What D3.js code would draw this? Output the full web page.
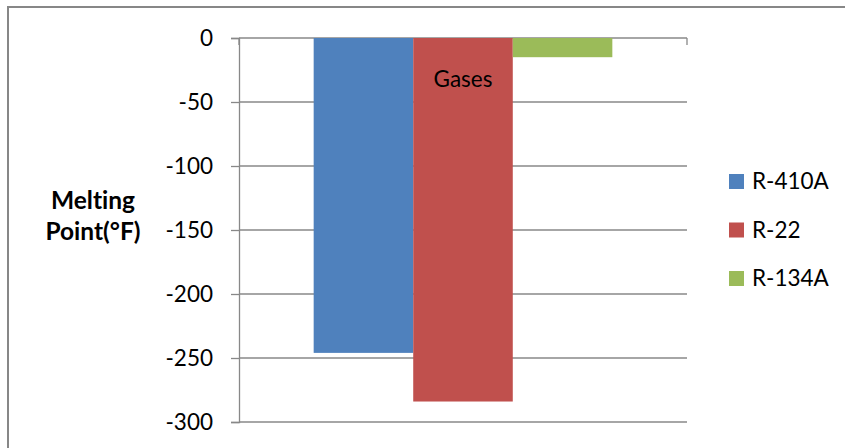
<!DOCTYPE html>
<html>
<head>
<meta charset="utf-8">
<script src="https://cdn.jsdelivr.net/npm/d3@7/dist/d3.min.js"></script>
<style>
  html, body { margin: 0; padding: 0; background: #fff; }
  svg { display: block; font-family: Lato, "Open Sans", sans-serif; font-variant-ligatures: none; font-feature-settings: "liga" 0, "clig" 0; }
</style>
</head>
<body>
<svg id="chart" width="845" height="448"></svg>
<script>
// Melting points of common refrigerants (°F)
const categories = ["Gases"];
const seriesNames = ["R-410A", "R-22", "R-134A"];
const seriesValues = [-246, -284, -15];
const seriesColors = ["#4F81BD", "#C0504D", "#9BBB59"];
const yTicks = [0, -50, -100, -150, -200, -250, -300];
const yTitle = ["Melting", "Point(°F)"];

const svg = d3.select("#chart");
const W = 845, H = 448;
const plot = { left: 239, right: 687, top: 38, bottom: 422 };
const gridColor = "#888888";
const fontSize = 22.5;

// outer chart frame (runs off the right and bottom edges)
svg.append("rect")
  .attr("x", 8).attr("y", 7)
  .attr("width", W + 20).attr("height", H + 20)
  .attr("fill", "#fff")
  .attr("stroke", "#878787")
  .attr("stroke-width", 2);

const y = d3.scaleLinear().domain([-300, 0]).range([plot.bottom, plot.top]);
const x0 = d3.scaleBand().domain(categories)
  .range([plot.left, plot.right])
  .paddingInner(1 / 3).paddingOuter(1 / 6);
const x1 = d3.scaleBand().domain(seriesNames).range([0, x0.bandwidth()]).padding(0);

// horizontal gridlines
svg.append("g")
  .selectAll("line")
  .data(yTicks)
  .join("line")
  .attr("x1", plot.left).attr("x2", plot.right)
  .attr("y1", d => y(d)).attr("y2", d => y(d))
  .attr("stroke", gridColor).attr("stroke-width", 1.3);

// bars
const rows = seriesNames.map((name, i) => ({ cat: categories[0], name, value: seriesValues[i], color: seriesColors[i] }));
svg.append("g")
  .selectAll("rect")
  .data(rows)
  .join("rect")
  .attr("x", d => x0(d.cat) + x1(d.name))
  .attr("y", d => y(Math.max(0, d.value)))
  .attr("width", x1.bandwidth())
  .attr("height", d => Math.abs(y(d.value) - y(0)))
  .attr("fill", d => d.color);

// value axis
const yAxis = d3.axisLeft(y).tickValues(yTicks).tickSize(8).tickPadding(18).tickFormat(d3.format("d"));
const yg = svg.append("g").attr("transform", `translate(${plot.left},0)`).call(yAxis);
yg.select(".domain").attr("stroke", gridColor).attr("stroke-width", 1.3);
yg.selectAll(".tick line").attr("stroke", gridColor).attr("stroke-width", 1.3);
yg.selectAll(".tick text")
  .attr("fill", "#000")
  .style("font-size", fontSize + "px")
  .style("font-family", "Lato, sans-serif")
  .text(d => d === 0 ? "0" : "-" + Math.abs(d));

// category axis along zero, ticks pointing down
svg.append("g")
  .selectAll("line")
  .data([plot.left, plot.right])
  .join("line")
  .attr("x1", d => d).attr("x2", d => d)
  .attr("y1", y(0)).attr("y2", y(0) + 7)
  .attr("stroke", gridColor).attr("stroke-width", 1.3);

svg.append("g")
  .selectAll("text")
  .data(categories)
  .join("text")
  .attr("x", d => x0(d) + x0.bandwidth() / 2)
  .attr("y", 87)
  .attr("text-anchor", "middle")
  .style("font-size", fontSize + "px")
  .text(d => d);

// axis title
svg.append("text")
  .attr("text-anchor", "middle")
  .style("font-size", "24.5px")
  .style("font-weight", "bold")
  .selectAll("tspan")
  .data(yTitle)
  .join("tspan")
  .attr("x", 93)
  .attr("y", (d, i) => 208.5 + i * 31.5)
  .text(d => d);

// legend
const legend = svg.append("g")
  .selectAll("g")
  .data(rows)
  .join("g")
  .attr("transform", (d, i) => `translate(729, ${174 + i * 48.5})`);
legend.append("rect")
  .attr("width", 15).attr("height", 15)
  .attr("fill", d => d.color);
legend.append("text")
  .attr("x", 23).attr("y", 7.5).attr("dy", "0.35em")
  .style("font-size", fontSize + "px")
  .text(d => d.name);
</script>
</body>
</html>
